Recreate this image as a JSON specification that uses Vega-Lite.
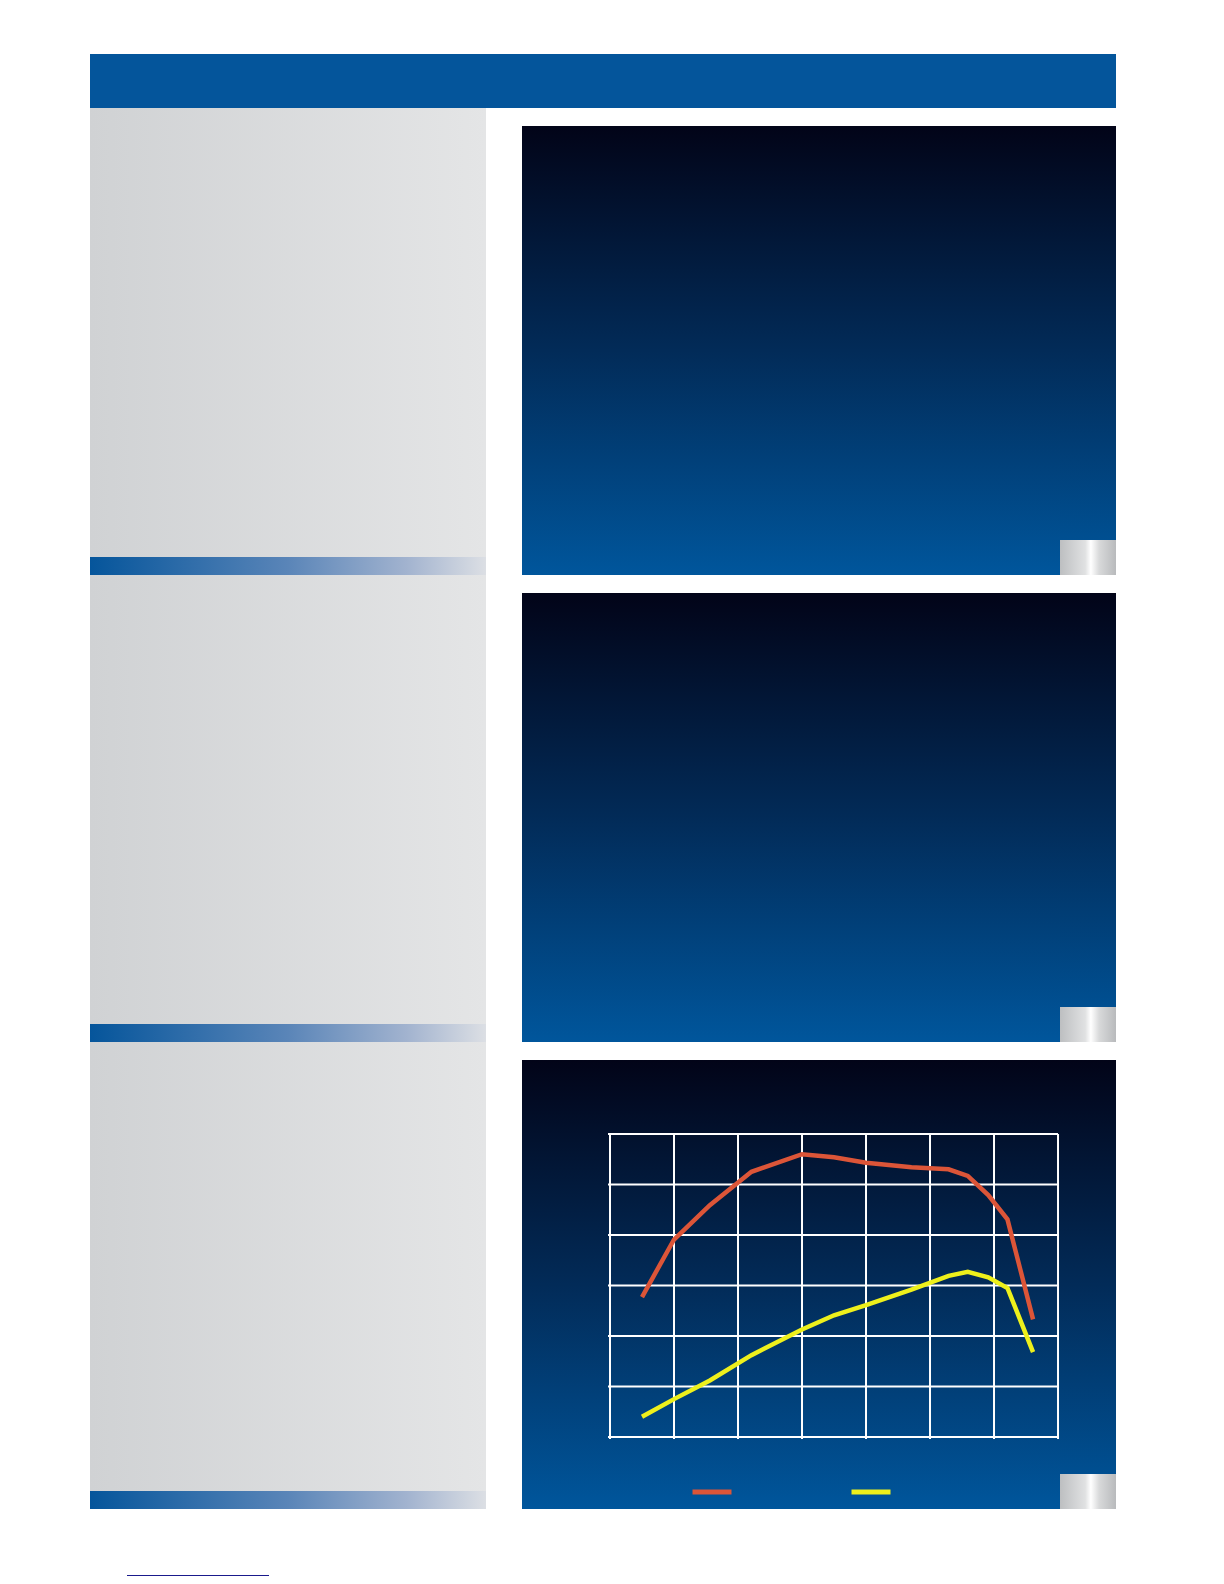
{
  "$schema": "https://vega.github.io/schema/vega-lite/v6.json",
  "description": "Engine curves: torque (red) and power (yellow) against rpm, on a brochure page",
  "padding": {"left": 90, "top": 54, "right": 0, "bottom": 0},
  "background": "white",
  "config": {"view": {"stroke": null}},
  "datasets": {
    "blank": [{}],
    "curves": [
      {"rpm": 500, "series": "Torque", "value": 27.7},
      {"rpm": 1000, "series": "Torque", "value": 39.1},
      {"rpm": 1560, "series": "Torque", "value": 45.9},
      {"rpm": 2210, "series": "Torque", "value": 52.5},
      {"rpm": 3000, "series": "Torque", "value": 56.0},
      {"rpm": 3500, "series": "Torque", "value": 55.4},
      {"rpm": 4000, "series": "Torque", "value": 54.3},
      {"rpm": 4710, "series": "Torque", "value": 53.4},
      {"rpm": 5290, "series": "Torque", "value": 53.0},
      {"rpm": 5590, "series": "Torque", "value": 51.7},
      {"rpm": 5910, "series": "Torque", "value": 47.9},
      {"rpm": 6210, "series": "Torque", "value": 43.1},
      {"rpm": 6610, "series": "Torque", "value": 23.3},
      {"rpm": 500, "series": "Power", "value": 4.0},
      {"rpm": 1000, "series": "Power", "value": 7.5},
      {"rpm": 1560, "series": "Power", "value": 11.2},
      {"rpm": 2210, "series": "Power", "value": 16.2},
      {"rpm": 3000, "series": "Power", "value": 21.3},
      {"rpm": 3500, "series": "Power", "value": 24.1},
      {"rpm": 4000, "series": "Power", "value": 26.1},
      {"rpm": 4710, "series": "Power", "value": 29.2},
      {"rpm": 5290, "series": "Power", "value": 31.9},
      {"rpm": 5590, "series": "Power", "value": 32.7},
      {"rpm": 5910, "series": "Power", "value": 31.6},
      {"rpm": 6210, "series": "Power", "value": 29.5},
      {"rpm": 6610, "series": "Power", "value": 16.8}
    ],
    "grid": [
      {"x": 0, "x2": 0, "y": -0.4, "y2": 60},
      {"x": 1000, "x2": 1000, "y": -0.4, "y2": 60},
      {"x": 2000, "x2": 2000, "y": -0.4, "y2": 60},
      {"x": 3000, "x2": 3000, "y": -0.4, "y2": 60},
      {"x": 4000, "x2": 4000, "y": -0.4, "y2": 60},
      {"x": 5000, "x2": 5000, "y": -0.4, "y2": 60},
      {"x": 6000, "x2": 6000, "y": -0.4, "y2": 60},
      {"x": 7000, "x2": 7000, "y": -0.4, "y2": 60},
      {"x": -31, "x2": 7000, "y": 0, "y2": 0},
      {"x": -31, "x2": 7000, "y": 10, "y2": 10},
      {"x": -31, "x2": 7000, "y": 20, "y2": 20},
      {"x": -31, "x2": 7000, "y": 30, "y2": 30},
      {"x": -31, "x2": 7000, "y": 40, "y2": 40},
      {"x": -31, "x2": 7000, "y": 50, "y2": 50},
      {"x": -31, "x2": 7000, "y": 60, "y2": 60}
    ]
  },
  "spacing": 66,
  "vconcat": [
    {
      "spacing": 0,
      "vconcat": [
        {"width": 1026, "height": 54, "data": {"name": "blank"}, "mark": {"type": "rect", "color": "#04559b"}},
        {
          "spacing": 36,
          "hconcat": [
            {
              "spacing": 0,
              "vconcat": [
                {"width": 396, "height": 449, "data": {"name": "blank"}, "mark": {"type": "rect", "fill": {"gradient": "linear", "x1": 0, "y1": 0, "x2": 1, "y2": 0, "stops": [{"offset": 0, "color": "#d0d2d4"}, {"offset": 1, "color": "#e4e5e6"}]}}},
                {"width": 396, "height": 18, "data": {"name": "blank"}, "mark": {"type": "rect", "fill": {"gradient": "linear", "x1": 0, "y1": 0, "x2": 1, "y2": 0, "stops": [{"offset": 0, "color": "#05559b"}, {"offset": 0.5, "color": "#5a85b8"}, {"offset": 0.8, "color": "#a2b3cf"}, {"offset": 1, "color": "#dcdfe4"}]}}},
                {"width": 396, "height": 449, "data": {"name": "blank"}, "mark": {"type": "rect", "fill": {"gradient": "linear", "x1": 0, "y1": 0, "x2": 1, "y2": 0, "stops": [{"offset": 0, "color": "#d0d2d4"}, {"offset": 1, "color": "#e4e5e6"}]}}},
                {"width": 396, "height": 18, "data": {"name": "blank"}, "mark": {"type": "rect", "fill": {"gradient": "linear", "x1": 0, "y1": 0, "x2": 1, "y2": 0, "stops": [{"offset": 0, "color": "#05559b"}, {"offset": 0.5, "color": "#5a85b8"}, {"offset": 0.8, "color": "#a2b3cf"}, {"offset": 1, "color": "#dcdfe4"}]}}},
                {"width": 396, "height": 449, "data": {"name": "blank"}, "mark": {"type": "rect", "fill": {"gradient": "linear", "x1": 0, "y1": 0, "x2": 1, "y2": 0, "stops": [{"offset": 0, "color": "#d0d2d4"}, {"offset": 1, "color": "#e4e5e6"}]}}},
                {"width": 396, "height": 18, "data": {"name": "blank"}, "mark": {"type": "rect", "fill": {"gradient": "linear", "x1": 0, "y1": 0, "x2": 1, "y2": 0, "stops": [{"offset": 0, "color": "#05559b"}, {"offset": 0.5, "color": "#5a85b8"}, {"offset": 0.8, "color": "#a2b3cf"}, {"offset": 1, "color": "#dcdfe4"}]}}}
              ]
            },
            {
              "spacing": 17,
              "vconcat": [
                {"width": 594, "height": 1, "data": {"name": "blank"}, "mark": {"type": "rect", "opacity": 0}},
                {
                  "spacing": 18,
                  "vconcat": [
                    {
                      "spacing": 0,
                      "hconcat": [
                        {"width": 538, "height": 449, "data": {"name": "blank"}, "mark": {"type": "rect", "fill": {"gradient": "linear", "x1": 0, "y1": 0, "x2": 0, "y2": 1, "stops": [{"offset": 0, "color": "#020418"}, {"offset": 0.5, "color": "#022b58"}, {"offset": 1, "color": "#00569c"}]}}},
                        {
                          "spacing": 0,
                          "vconcat": [
                            {"width": 56, "height": 414, "data": {"name": "blank"}, "mark": {"type": "rect", "fill": {"gradient": "linear", "x1": 0, "y1": 0, "x2": 0, "y2": 1, "stops": [{"offset": 0, "color": "#020418"}, {"offset": 0.542, "color": "#022b58"}, {"offset": 1, "color": "#004f91"}]}}},
                            {"width": 56, "height": 35, "data": {"name": "blank"}, "mark": {"type": "rect", "fill": {"gradient": "linear", "x1": 0, "y1": 0, "x2": 1, "y2": 0, "stops": [{"offset": 0, "color": "#bdbfc1"}, {"offset": 0.45, "color": "#e0e1e2"}, {"offset": 0.55, "color": "#ffffff"}, {"offset": 0.7, "color": "#d8d9da"}, {"offset": 1, "color": "#b8babc"}]}}}
                          ]
                        }
                      ]
                    },
                    {
                      "spacing": 0,
                      "hconcat": [
                        {"width": 538, "height": 449, "data": {"name": "blank"}, "mark": {"type": "rect", "fill": {"gradient": "linear", "x1": 0, "y1": 0, "x2": 0, "y2": 1, "stops": [{"offset": 0, "color": "#020418"}, {"offset": 0.5, "color": "#022b58"}, {"offset": 1, "color": "#00569c"}]}}},
                        {
                          "spacing": 0,
                          "vconcat": [
                            {"width": 56, "height": 414, "data": {"name": "blank"}, "mark": {"type": "rect", "fill": {"gradient": "linear", "x1": 0, "y1": 0, "x2": 0, "y2": 1, "stops": [{"offset": 0, "color": "#020418"}, {"offset": 0.542, "color": "#022b58"}, {"offset": 1, "color": "#004f91"}]}}},
                            {"width": 56, "height": 35, "data": {"name": "blank"}, "mark": {"type": "rect", "fill": {"gradient": "linear", "x1": 0, "y1": 0, "x2": 1, "y2": 0, "stops": [{"offset": 0, "color": "#bdbfc1"}, {"offset": 0.45, "color": "#e0e1e2"}, {"offset": 0.55, "color": "#ffffff"}, {"offset": 0.7, "color": "#d8d9da"}, {"offset": 1, "color": "#b8babc"}]}}}
                          ]
                        }
                      ]
                    },
                    {
                      "spacing": 0,
                      "hconcat": [
                        {
                          "width": 538,
                          "height": 449,
                          "layer": [
                            {"data": {"name": "blank"}, "mark": {"type": "rect", "fill": {"gradient": "linear", "x1": 0, "y1": 0, "x2": 0, "y2": 1, "stops": [{"offset": 0, "color": "#020418"}, {"offset": 0.5, "color": "#022b58"}, {"offset": 1, "color": "#00569c"}]}}},
                            {
                              "data": {"name": "grid"},
                              "mark": {"type": "rule", "color": "#ffffff", "strokeWidth": 2},
                              "encoding": {
                                "x": {"field": "x", "type": "quantitative", "scale": {"domain": [-1375, 7031], "nice": false, "zero": false}, "axis": null},
                                "x2": {"field": "x2"},
                                "y": {"field": "y", "type": "quantitative", "scale": {"domain": [-14.26, 74.65], "nice": false, "zero": false}, "axis": null},
                                "y2": {"field": "y2"}
                              }
                            },
                            {
                              "data": {"name": "curves"},
                              "mark": {"type": "line", "strokeWidth": 4.5},
                              "encoding": {
                                "x": {"field": "rpm", "type": "quantitative", "scale": {"domain": [-1375, 7031], "nice": false, "zero": false}, "axis": null},
                                "y": {"field": "value", "type": "quantitative", "scale": {"domain": [-14.26, 74.65], "nice": false, "zero": false}, "axis": null},
                                "color": {
                                  "field": "series",
                                  "type": "nominal",
                                  "scale": {"domain": ["Torque", "Power"], "range": ["#dc5538", "#eef01c"]},
                                  "legend": {
                                    "orient": "none",
                                    "legendX": 600,
                                    "legendY": 1416,
                                    "direction": "horizontal",
                                    "title": null,
                                    "symbolType": "stroke",
                                    "symbolSize": 1521,
                                    "symbolStrokeWidth": 5,
                                    "labelExpr": "''",
                                    "labelOffset": 0,
                                    "columnPadding": 99,
                                    "padding": 0
                                  }
                                }
                              }
                            }
                          ]
                        },
                        {
                          "spacing": 0,
                          "vconcat": [
                            {"width": 56, "height": 414, "data": {"name": "blank"}, "mark": {"type": "rect", "fill": {"gradient": "linear", "x1": 0, "y1": 0, "x2": 0, "y2": 1, "stops": [{"offset": 0, "color": "#020418"}, {"offset": 0.542, "color": "#022b58"}, {"offset": 1, "color": "#004f91"}]}}},
                            {"width": 56, "height": 35, "data": {"name": "blank"}, "mark": {"type": "rect", "fill": {"gradient": "linear", "x1": 0, "y1": 0, "x2": 1, "y2": 0, "stops": [{"offset": 0, "color": "#bdbfc1"}, {"offset": 0.45, "color": "#e0e1e2"}, {"offset": 0.55, "color": "#ffffff"}, {"offset": 0.7, "color": "#d8d9da"}, {"offset": 1, "color": "#b8babc"}]}}}
                          ]
                        }
                      ]
                    }
                  ]
                }
              ]
            }
          ]
        }
      ]
    },
    {
      "spacing": 0,
      "hconcat": [
        {"width": 37, "height": 1, "data": {"name": "blank"}, "mark": {"type": "rect", "opacity": 0}},
        {"width": 142, "height": 1, "data": {"name": "blank"}, "mark": {"type": "rect", "color": "#1a1a8c"}}
      ]
    }
  ]
}
